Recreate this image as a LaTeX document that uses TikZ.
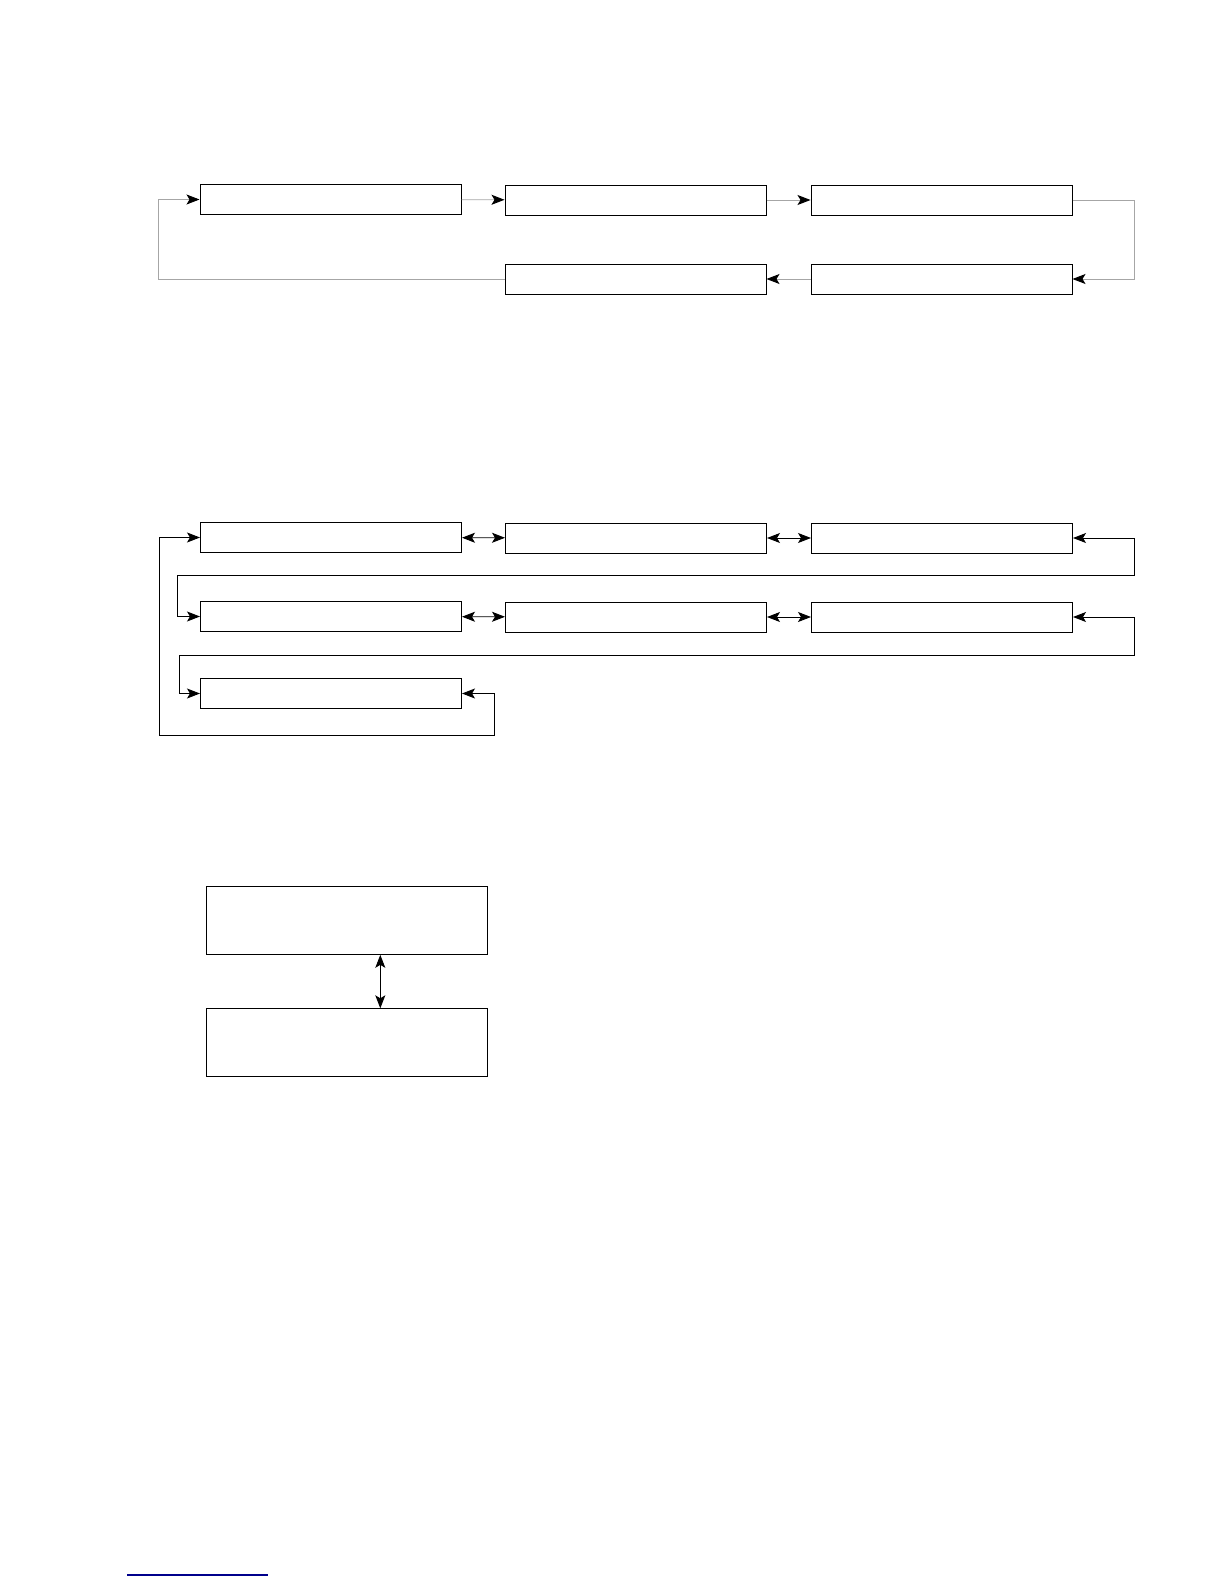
\documentclass[tikz,border=0pt]{standalone}
\usetikzlibrary{arrows.meta}

\tikzset{
  block/.style={draw, line width=1pt, minimum width=261, minimum height=30, inner sep=0pt},
  tallblock/.style={draw, line width=1pt, minimum width=281, minimum height=68, inner sep=0pt},
  flow/.style={line width=0.9pt, -{Stealth[length=13pt,width=10pt,inset=3pt]}},
  dflow/.style={line width=0.9pt, {Stealth[length=13pt,width=10pt,inset=3pt]}-{Stealth[length=13pt,width=10pt,inset=3pt]}},
  pale/.style={line width=0.9pt, draw=black!35, -{Stealth[length=13pt,width=10pt,inset=3pt,black]}}
}

\begin{document}
\begin{tikzpicture}[x=1pt, y=-1pt]
        \useasboundingbox (0,0) rectangle (1224,1584);
        \node[block] (a1) at (330.5,199.5) {};
        \node[block] (a2) at (635.5,200) {};
        \node[block] (a3) at (941.5,200) {};
        \node[block] (a4) at (941.5,279) {};
        \node[block] (a5) at (635.5,279) {};
        \draw[pale] (a1) -- (a2);
        \draw[pale] (a2) -- (a3);
        \draw[pale] (a3.east) -- ++(61.5,0) |- (a4.east);
        \draw[pale] (a4) -- (a5);
        \draw[pale] (a5.west) -| (158.5,199.5) -- (a1.west);

        \node[block] (b1) at (331,537.5) {};
        \node[block] (b2) at (636,538) {};
        \node[block] (b3) at (942,538) {};
        \node[block] (b4) at (331,616.5) {};
        \node[block] (b5) at (636,617) {};
        \node[block] (b6) at (942,617) {};
        \node[block] (b7) at (331,693.5) {};
        \draw[dflow] (b1) -- (b2);
        \draw[dflow] (b2) -- (b3);
        \draw[dflow] (b4) -- (b5);
        \draw[dflow] (b5) -- (b6);
        \draw[dflow] (b3.east) -- ++(61,0) |- (177.5,575.5) |- (b4.west);
        \draw[dflow] (b6.east) -- ++(61,0) |- (179.5,655.5) |- (b7.west);
        \draw[dflow] (b7.east) -- ++(32.5,0) |- (159.5,735) |- (b1.west);

        \node[tallblock] (c1) at (346.8,920.3) {};
        \node[tallblock] (c2) at (346.8,1042.8) {};
        \draw[dflow] ([xshift=33.5]c1.south) -- ([xshift=33.5]c2.north);

        \draw[line width=1.2pt, blue!55!black] (127,1575) -- (268,1575);
    \end{tikzpicture}
\end{document}
